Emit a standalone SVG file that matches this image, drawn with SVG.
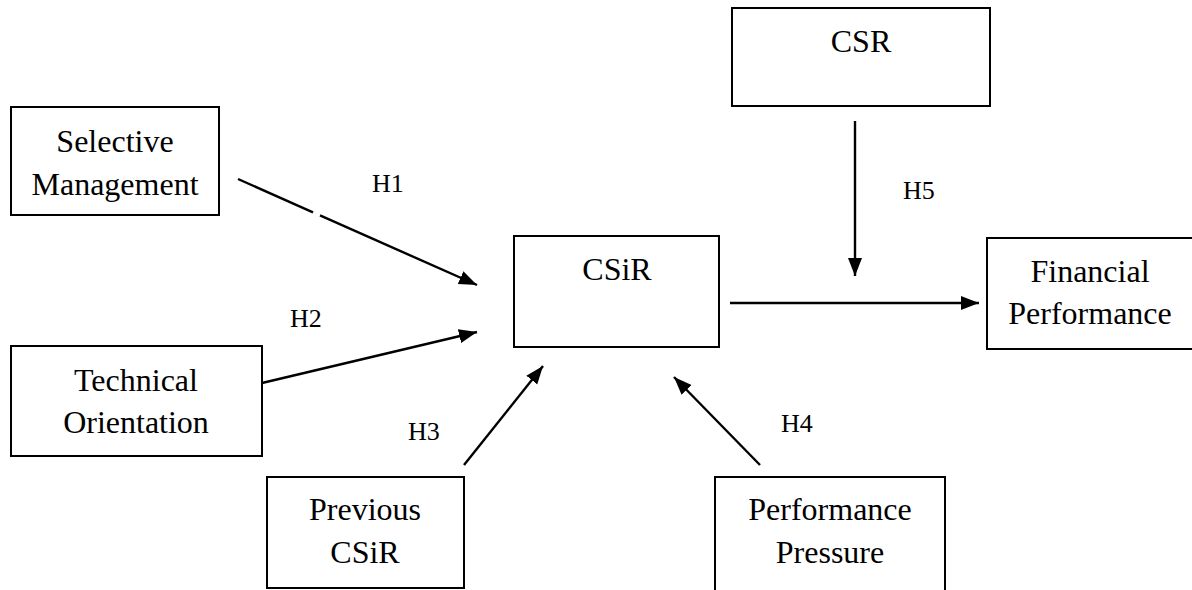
<svg xmlns="http://www.w3.org/2000/svg" width="1192" height="590" viewBox="0 0 1192 590">
<style>
.box{fill:#fff;stroke:#000;stroke-width:2}
.t{font-family:"Liberation Serif","Times New Roman",serif;font-size:32px;fill:#000;text-anchor:middle}
.h{font-family:"Liberation Serif","Times New Roman",serif;font-size:26px;fill:#000}
.c{stroke:#000;stroke-width:2.4;fill:none}
</style>
<defs>
<marker id="ah" markerUnits="userSpaceOnUse" markerWidth="20" markerHeight="16" refX="18" refY="7" orient="auto" viewBox="0 0 20 14">
<path d="M0,0 L18,7 L0,14 Z" fill="#000"/>
</marker>
</defs>
<rect width="1192" height="590" fill="#fff"/>
<g id="selective-management">
<rect class="box" x="11" y="107" width="208" height="108"/>
<text class="t" x="115" y="152">Selective</text>
<text class="t" x="115" y="195">Management</text>
</g>
<g id="technical-orientation">
<rect class="box" x="11" y="346" width="251" height="110"/>
<text class="t" x="136" y="391">Technical</text>
<text class="t" x="136" y="433">Orientation</text>
</g>
<g id="csir">
<rect class="box" x="514" y="236" width="205" height="111"/>
<text class="t" x="617" y="280">CSiR</text>
</g>
<g id="csr">
<rect class="box" x="732" y="8" width="258" height="98"/>
<text class="t" x="861" y="52">CSR</text>
</g>
<g id="financial-performance">
<rect class="box" x="987" y="238" width="215" height="111"/>
<text class="t" x="1090" y="282">Financial</text>
<text class="t" x="1090" y="324">Performance</text>
</g>
<g id="previous-csir">
<rect class="box" x="267" y="477" width="197" height="111"/>
<text class="t" x="365" y="520">Previous</text>
<text class="t" x="365" y="563">CSiR</text>
</g>
<g id="performance-pressure">
<rect class="box" x="715" y="477" width="230" height="125"/>
<text class="t" x="830" y="520">Performance</text>
<text class="t" x="830" y="563">Pressure</text>
</g>
<g id="connectors">
<line class="c" x1="238" y1="179" x2="313" y2="212.3"/>
<line class="c" x1="320" y1="215.4" x2="477" y2="285" marker-end="url(#ah)"/>
<line class="c" x1="262" y1="383" x2="477" y2="332" marker-end="url(#ah)"/>
<line class="c" x1="464" y1="465" x2="543" y2="366" marker-end="url(#ah)"/>
<line class="c" x1="760" y1="465" x2="674" y2="377" marker-end="url(#ah)"/>
<line class="c" x1="730" y1="303" x2="979" y2="303" marker-end="url(#ah)"/>
<line class="c" x1="855" y1="121" x2="855" y2="276" marker-end="url(#ah)"/>
</g>
<g id="labels">
<text class="h" x="372" y="192">H1</text>
<text class="h" x="290" y="327">H2</text>
<text class="h" x="408" y="440">H3</text>
<text class="h" x="781" y="432">H4</text>
<text class="h" x="903" y="199">H5</text>
</g>
</svg>
